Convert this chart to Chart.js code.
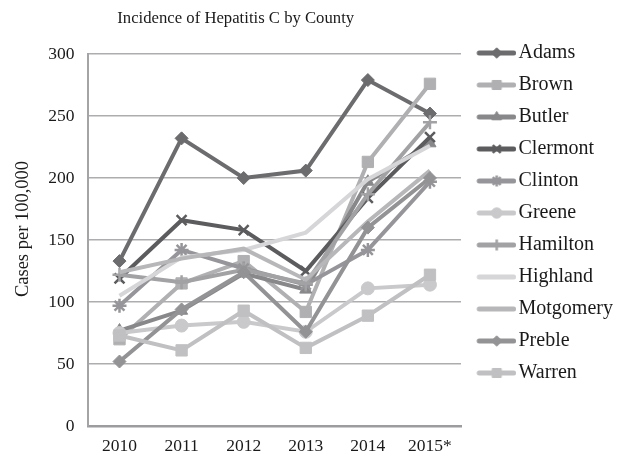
<!DOCTYPE html>
<html><head><meta charset="utf-8">
<script src="https://cdn.jsdelivr.net/npm/chart.js@4"></script>
<style>html,body{margin:0;padding:0;background:#fff}#wrap{width:617px;height:457px;position:relative}</style>
</head><body><div id="wrap"><canvas id="c" width="617" height="457"></canvas></div>
<script>
const categories = ['2010', '2011', '2012', '2013', '2014', '2015*'];
const countyNames = ['Adams', 'Brown', 'Butler', 'Clermont', 'Clinton', 'Greene', 'Hamilton', 'Highland', 'Motgomery', 'Preble', 'Warren'];
const adams     = [133, 232, 200, 206, 279, 252];
const brown     = [70, 115, 133, 92, 213, 276];
const butler    = [77, 93, 123, 110, 197, 228];
const clermont  = [119, 166, 158, 125, 184, 233];
const clinton   = [97, 142, 127, 114, 142, 197];
const greene    = [75, 81, 84, 76, 111, 114];
const hamilton  = [122, 116, 126, 115, 187, 245];
const highland  = [105, 136, 142, 156, 199, 226];
const motgomery = [124, 135, 143, 118, 165, 206];
const preble    = [52, 94, 124, 76, 160, 200];
const warren    = [73, 61, 93, 63, 89, 122];
const yTicks = [0, 50, 100, 150, 200, 250, 300];

const seriesValues = [adams, brown, butler, clermont, clinton, greene, hamilton, highland, motgomery, preble, warren];
const colors  = ['#6c6c6f', '#b0b0b2', '#88888b', '#5c5c5f', '#96969a', '#c9c9cb', '#a2a2a5', '#d6d6d8', '#b7b7b9', '#939396', '#c0c0c2'];
const markers = ['rectRot', 'rect', 'triangle', 'crossRot', 'star', 'circle', 'cross', false, false, 'rectRot', 'rect'];
const radii   = [6.5, 8, 7, 7, 7, 6.5, 7, 0, 0, 6.5, 8];

const FONT = "'Liberation Serif', 'Times New Roman', serif";

const datasets = countyNames.map((name, i) => {
  const stroked = ['crossRot', 'star', 'cross'].includes(markers[i]);
  return {
    label: name,
    data: seriesValues[i],
    borderColor: colors[i],
    backgroundColor: colors[i],
    pointBackgroundColor: colors[i],
    pointBorderColor: colors[i],
    borderWidth: 4,
    pointStyle: markers[i] || 'circle',
    pointRadius: radii[i],
    pointBorderWidth: stroked ? 2.5 : 1,
    pointHoverRadius: radii[i],
    tension: 0,
    fill: false,
    order: countyNames.length - 1 - i
  };
});

function legendIcon(ds, i) {
  const c = document.createElement('canvas');
  c.width = 51; c.height = 14;
  const g = c.getContext('2d');
  g.strokeStyle = ds.borderColor;
  g.lineWidth = 5;
  g.lineCap = 'round';
  g.beginPath(); g.moveTo(14, 7); g.lineTo(48.5, 7); g.stroke();
  if (markers[i]) {
    g.fillStyle = ds.borderColor;
    g.strokeStyle = ds.borderColor;
    g.lineWidth = ds.pointBorderWidth;
    g.lineCap = 'butt';
    Chart.helpers.drawPoint(g, {pointStyle: markers[i], radius: radii[i] * 0.8, borderWidth: ds.pointBorderWidth, rotation: 0}, 31.5, 7);
  }
  return c;
}
const icons = datasets.map((d, i) => legendIcon(d, i));

// Title is centred over the area left of the legend; y-axis title sits a little above the axis middle.
const placementPlugin = {
  id: 'placement',
  afterLayout(chart) {
    const tb = chart.titleBlock;
    if (tb) {
      const w = tb.right - tb.left;
      const centre = (chart.chartArea.left + chart.chartArea.right) / 2 - 39;
      tb.left = centre - w / 2;
      tb.right = centre + w / 2;
    }
    const s = chart.scales.y;
    if (s && !s._shifted) {
      const orig = s.drawTitle.bind(s);
      s.drawTitle = function () {
        this.ctx.save();
        this.ctx.translate(0, -11);
        orig();
        this.ctx.restore();
      };
      s._shifted = true;
    }
  }
};

new Chart(document.getElementById('c'), {
  type: 'line',
  data: { labels: categories, datasets },
  plugins: [placementPlugin],
  options: {
    responsive: false,
    animation: false,
    devicePixelRatio: 1,
    layout: { padding: { top: 5, left: 4, right: 0, bottom: -10 } },
    plugins: {
      tooltip: { enabled: false },
      title: {
        display: true,
        text: 'Incidence of Hepatitis C by County',
        fullSize: false,
        color: '#1a1a1a',
        font: { family: FONT, size: 16.7, weight: 'normal' },
        padding: { top: 4, bottom: 25 }
      },
      legend: {
        position: 'right',
        align: 'start',
        maxWidth: 156,
        title: { display: true, text: '', font: { size: 10 }, padding: { top: 0, bottom: 14 } },
        labels: {
          usePointStyle: true,
          pointStyleWidth: 35.5,
          padding: 12,
          color: '#1a1a1a',
          font: { family: FONT, size: 20 },
          sort: (a, b) => a.datasetIndex - b.datasetIndex,
          generateLabels(chart) {
            const items = Chart.defaults.plugins.legend.labels.generateLabels(chart);
            items.forEach(it => { it.pointStyle = icons[it.datasetIndex]; });
            return items;
          }
        }
      }
    },
    scales: {
      x: {
        offset: true,
        grid: { display: false, drawTicks: false },
        border: { display: true, color: '#9c9c9f', width: 2.5 },
        ticks: { color: '#1a1a1a', font: { family: FONT, size: 17.5 }, padding: 10 }
      },
      y: {
        min: 0, max: 300,
        afterBuildTicks: s => { s.ticks = yTicks.map(v => ({ value: v })); },
        grid: { color: '#adadb0', lineWidth: 1.5, drawTicks: false },
        border: { display: true, color: '#a4a4a7', width: 2 },
        ticks: { color: '#1a1a1a', font: { family: FONT, size: 17.5 }, padding: 14 },
        title: { display: true, text: 'Cases per 100,000', color: '#1a1a1a', font: { family: FONT, size: 18.5 }, padding: { top: 8, bottom: 0 } }
      }
    }
  }
});
</script>
</body></html>
